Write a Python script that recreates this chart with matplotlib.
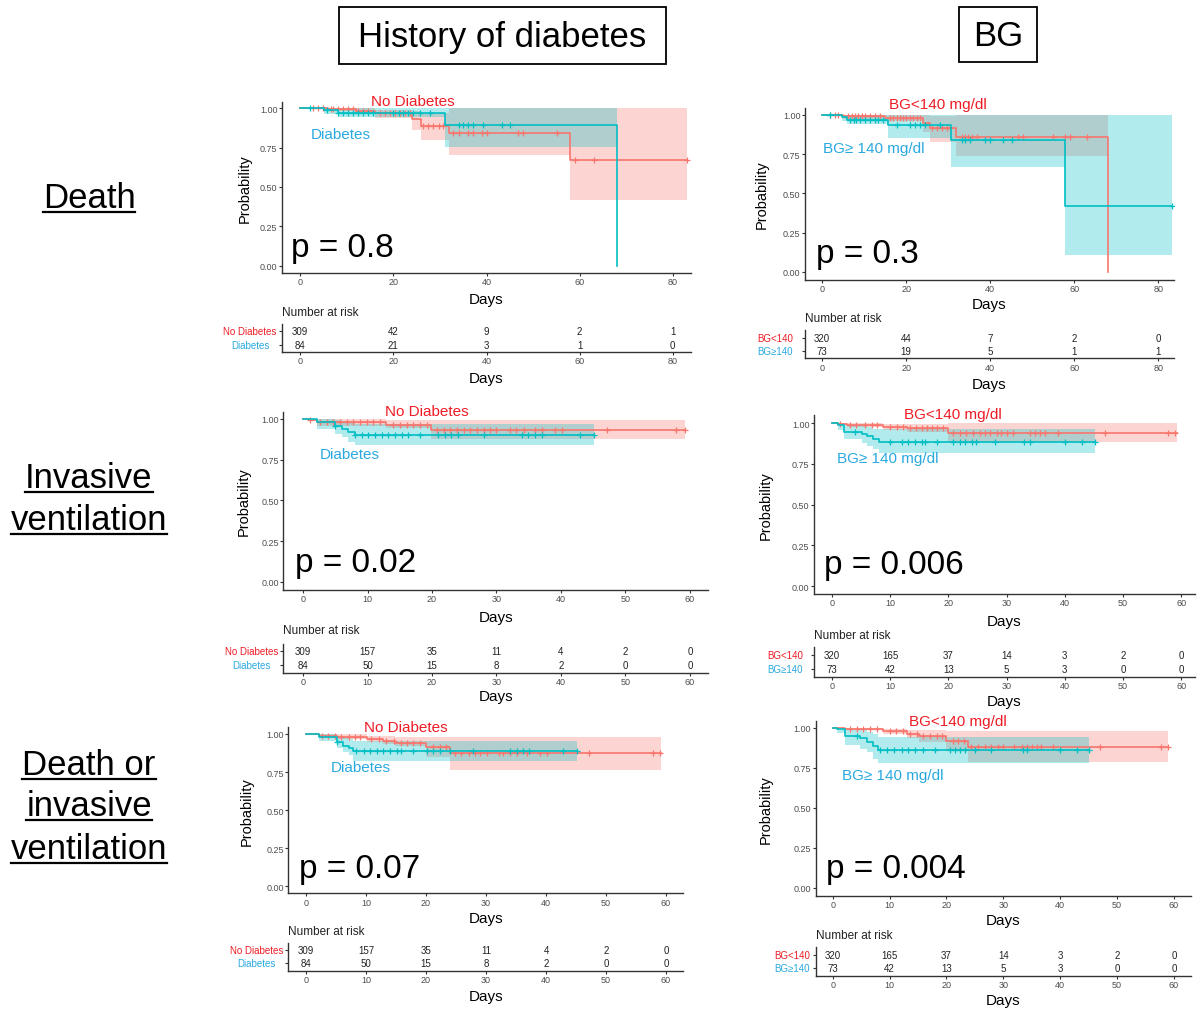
import numpy as np
import matplotlib
matplotlib.use("Agg")
import matplotlib.pyplot as plt
from matplotlib.lines import Line2D
from matplotlib.patches import Rectangle

plt.rcParams['font.family'] = ['Liberation Sans', 'DejaVu Sans']

# ------------------------------------------------------------------ text
col_headers = ["History of diabetes", "BG"]
row_headers = [["Death"], ["Invasive", "ventilation"], ["Death or", "invasive", "ventilation"]]
dm_labels = ["No Diabetes", "Diabetes"]
dm_risk_labels = ["No Diabetes", "Diabetes"]
bg_labels = ["BG<140 mg/dl", "BG\u2265 140 mg/dl"]
bg_risk_labels = ["BG<140", "BG\u2265140"]
p_values = ["0.8", "0.3", "0.02", "0.006", "0.07", "0.004"]

# ------------------------------------------------------------------ risk tables
death_ticks = [0, 20, 40, 60, 80]
iv_ticks = [0, 10, 20, 30, 40, 50, 60]
death_dm_risk_red = [309, 42, 9, 2, 1]
death_dm_risk_teal = [84, 21, 3, 1, 0]
death_bg_risk_red = [320, 44, 7, 2, 0]
death_bg_risk_teal = [73, 19, 5, 1, 1]
iv_dm_risk_red = [309, 157, 35, 11, 4, 2, 0]
iv_dm_risk_teal = [84, 50, 15, 8, 2, 0, 0]
iv_bg_risk_red = [320, 165, 37, 14, 3, 2, 0]
iv_bg_risk_teal = [73, 42, 13, 5, 3, 0, 0]
div_dm_risk_red = [309, 157, 35, 11, 4, 2, 0]
div_dm_risk_teal = [84, 50, 15, 8, 2, 0, 0]
div_bg_risk_red = [320, 165, 37, 14, 3, 2, 0]
div_bg_risk_teal = [73, 42, 13, 5, 3, 0, 0]

# ------------------------------------------------------------------ KM curves
# Death - diabetes history
death_dm_red_t = [0, 6, 12, 16, 24, 26, 32, 58]
death_dm_red_s = [1, 0.995, 0.985, 0.97, 0.93, 0.89, 0.84, 0.67]
death_dm_red_lo = [1, 0.985, 0.97, 0.94, 0.86, 0.80, 0.705, 0.42]
death_dm_red_hi = [1, 1, 1, 0.99, 0.985, 0.97, 1, 1]
death_dm_red_end = 83
death_dm_red_cens = [2.8, 3.9, 4.9, 6.5, 7.1, 8.2, 9.2, 10.3, 11.4, 12.5, 13.5, 14.6, 17.1, 18.2,
                     19.3, 20.3, 21.4, 22.5, 23.6, 26.4, 27.5, 28.6, 29.7, 30.7, 32.9, 34, 36.1,
                     37.2, 39, 40, 46.8, 47.9, 55.1, 59, 63, 83]
death_dm_teal_t = [0, 5, 8, 31, 68]
death_dm_teal_s = [1, 0.988, 0.97, 0.894, 0]
death_dm_teal_lo = [1, 0.965, 0.943, 0.752, 0]
death_dm_teal_hi = [1, 1, 1, 1, 0]
death_dm_teal_end = 68
death_dm_teal_cens = [2.1, 5.7, 8.2, 9.2, 10.3, 11.4, 12.5, 13.5, 14.6, 15.7, 20, 21.1, 22.1, 23.2,
                      24.3, 25.7, 27.9, 34, 35, 36.1, 37.2, 39.3, 43.3, 45.1]

# Death - BG
death_bg_red_t = [0, 5.1, 15, 24.1, 25.7, 31.9, 68]
death_bg_red_s = [1, 0.99, 0.98, 0.947, 0.913, 0.86, 0]
death_bg_red_lo = [1, 0.975, 0.96, 0.89, 0.825, 0.74, 0]
death_bg_red_hi = [1, 1, 1, 1, 0.99, 1, 0]
death_bg_red_end = 68
death_bg_red_cens = [1.9, 3.1, 3.9, 6.3, 7.1, 7.9, 8.6, 9.4, 10.2, 11.4, 12.6, 13.8, 16.2, 17, 17.8,
                     18.6, 19.3, 20.1, 20.9, 21.7, 22.5, 23.3, 26.1, 27.3, 28.5, 29.7, 30.5, 33.2,
                     34, 34.8, 35.6, 36.8, 46.7, 47.9, 55, 57.8, 59, 63]
death_bg_teal_t = [0, 4.7, 6, 15.8, 30.8, 57.9]
death_bg_teal_s = [1, 0.983, 0.966, 0.934, 0.839, 0.42]
death_bg_teal_lo = [1, 0.96, 0.94, 0.85, 0.67, 0.108]
death_bg_teal_hi = [1, 1, 1, 1, 1, 1]
death_bg_teal_end = 83.2
death_bg_teal_cens = [1.9, 6.7, 7.5, 8.2, 9, 10.2, 11.4, 12.6, 13.4, 14.6, 17.8, 20.9, 22.1, 23.3,
                      24.5, 28.1, 33.2, 34, 35.2, 38.8, 40, 43.1, 45.1, 83.2]

# Invasive ventilation - diabetes history
iv_dm_red_t = [0, 1, 2.1, 12.8, 19.9]
iv_dm_red_s = [1, 0.995, 0.984, 0.965, 0.932]
iv_dm_red_lo = [1, 0.985, 0.96, 0.943, 0.877]
iv_dm_red_hi = [1, 1, 0.998, 0.995, 0.996]
iv_dm_red_end = 59.2
iv_dm_red_cens = [1.1, 2.6, 3.7, 4.7, 5.7, 6.8, 7.8, 8.8, 9.9, 10.9, 11.9, 14, 15, 16.1, 17.1, 18.1,
                  19.2, 20.7, 21.8, 22.8, 23.8, 24.9, 25.9, 26.9, 28, 29, 30, 32.1, 33.1, 34.2, 36,
                  37, 39.1, 40.1, 47.1, 57.9, 59.2]
iv_dm_teal_t = [0, 2.1, 5, 6, 7, 8.1]
iv_dm_teal_s = [1, 0.984, 0.96, 0.94, 0.918, 0.90]
iv_dm_teal_lo = [1, 0.94, 0.91, 0.888, 0.86, 0.843]
iv_dm_teal_hi = [1, 1, 0.995, 0.985, 0.975, 0.97]
iv_dm_teal_end = 45.1
iv_dm_teal_cens = [5, 8.1, 9.1, 10.1, 11.2, 12.2, 13.2, 14.3, 15.3, 16.3, 18.1, 21, 22, 23, 24.1, 28,
                   33.9, 34.9, 36, 37, 42.9, 45.1]

# Invasive ventilation - BG
iv_bg_red_t = [0, 1.1, 2.5, 8.8, 12.8, 20]
iv_bg_red_s = [1, 0.995, 0.99, 0.978, 0.967, 0.937]
iv_bg_red_lo = [1, 0.985, 0.975, 0.96, 0.943, 0.886]
iv_bg_red_hi = [1, 1, 1, 0.995, 0.993, 0.998]
iv_bg_red_end = 59.2
iv_bg_red_cens = [1.4, 3.1, 4.2, 5.7, 6.8, 7.7, 10, 11.1, 12.2, 13.4, 14.5, 15.4, 16.3, 17.1, 18,
                  19.1, 20.8, 22, 23.1, 24.3, 25.4, 26.3, 27.1, 28.3, 29.1, 30, 31.1, 34, 34.9,
                  35.7, 36.6, 38.9, 46.9, 57.8, 58.9]
iv_bg_teal_t = [0, 1.1, 2.1, 5.1, 6, 7.1, 8]
iv_bg_teal_s = [1, 0.988, 0.943, 0.933, 0.918, 0.90, 0.886]
iv_bg_teal_lo = [1, 0.96, 0.90, 0.88, 0.86, 0.84, 0.816]
iv_bg_teal_hi = [1, 1, 0.99, 0.985, 0.975, 0.965, 0.963]
iv_bg_teal_end = 45.2
iv_bg_teal_cens = [3.9, 10, 12, 13.1, 14.3, 15.4, 16, 18, 20.8, 22, 22.8, 24, 24.8, 28, 32.9, 34, 40,
                   42.9, 45.2]

# Death or invasive ventilation - diabetes history
div_dm_red_t = [0, 2.1, 5.1, 10.1, 12.9, 14.8, 20, 24]
div_dm_red_s = [1, 0.99, 0.983, 0.967, 0.956, 0.943, 0.912, 0.873]
div_dm_red_lo = [1, 0.975, 0.965, 0.945, 0.935, 0.92, 0.85, 0.766]
div_dm_red_hi = [1, 1, 0.998, 0.99, 0.985, 0.98, 0.978, 0.978]
div_dm_red_end = 59.1
div_dm_red_cens = [2.6, 3.7, 4.8, 5.9, 7.1, 8.2, 9, 10.9, 12.1, 13.4, 14.6, 15.9, 16.8, 17.9, 19,
                   21.2, 22.3, 23.4, 24.8, 25.9, 27.1, 28.2, 29, 30.1, 32.1, 32.9, 34, 35.1, 36.8,
                   39, 40.1, 47.1, 57.9, 59]
div_dm_teal_t = [0, 2.1, 5.1, 6.2, 7.1, 7.9]
div_dm_teal_s = [1, 0.983, 0.945, 0.923, 0.906, 0.888]
div_dm_teal_lo = [1, 0.955, 0.905, 0.885, 0.865, 0.825]
div_dm_teal_hi = [1, 1, 0.99, 0.98, 0.97, 0.956]
div_dm_teal_end = 45.1
div_dm_teal_cens = [5.1, 8.4, 9.6, 10.7, 11.8, 12.9, 14, 15.1, 15.9, 17.9, 20.1, 21.2, 22.3, 24,
                    27.9, 34, 35.1, 36.2, 37.1, 42.9, 45.1]

# Death or invasive ventilation - BG
div_bg_red_t = [0, 2.2, 8.9, 13, 15.1, 20, 23.8]
div_bg_red_s = [1, 0.994, 0.983, 0.962, 0.948, 0.92, 0.883]
div_bg_red_lo = [1, 0.985, 0.965, 0.935, 0.915, 0.858, 0.79]
div_bg_red_hi = [1, 1, 0.995, 0.99, 0.985, 0.983, 0.983]
div_bg_red_end = 59
div_bg_red_cens = [3, 4.2, 5.4, 6.6, 7.7, 10.1, 11.2, 12.4, 13.6, 14.8, 15.9, 17.1, 18.3, 19.2, 21.2,
                   22.1, 23, 24.4, 25.6, 26.8, 27.9, 29.1, 30, 31.8, 33.2, 34.1, 35, 35.9, 36.7,
                   38.8, 47, 57.8, 59]
div_bg_teal_t = [0, 0.8, 2.1, 4.8, 6, 7, 8]
div_bg_teal_s = [1, 0.994, 0.948, 0.935, 0.91, 0.89, 0.862]
div_bg_teal_lo = [1, 0.97, 0.896, 0.868, 0.848, 0.806, 0.78]
div_bg_teal_hi = [1, 1, 0.99, 0.985, 0.975, 0.96, 0.942]
div_bg_teal_end = 45.1
div_bg_teal_cens = [4.2, 8.3, 9.5, 10.7, 12.1, 13.3, 14.5, 15.9, 18, 20.6, 21.5, 22.4, 23.3, 25,
                    27.9, 33.5, 34.1, 40, 42.9, 45.1]

# ------------------------------------------------------------------ styles
RED_LINE = '#F8766D'
TEAL_LINE = '#00BFC4'
RED_TXT = '#EE1C25'
BLUE_TXT = '#29A9E0'
AX_COL = '#333333'
TICK_COL = '#4D4D4D'

W, H = 1197, 1012
fig = plt.figure(figsize=(W / 100, H / 100), dpi=100)
fig.patch.set_facecolor('white')


def fx(px):
    return px / W


def fy(py):
    return 1 - py / H


def add_axes_px(L, R, T, B):
    return fig.add_axes([L / W, 1 - B / H, (R - L) / W, (B - T) / H])


# layout (pixel positions) per panel
LAYOUT = [
    dict(main=(282, 691, 103, 274), xcal=(300.3, 672.7), ycal=(109.3, 266.7), risk=(325, 353),
         rows=(332.3, 346), nar_y=313, days_y=300, rdays_y=379, ylab_x=245,
         lab1=(413, 102), lab2=(341, 135), p=(291, 257), rlab_x=250),
    dict(main=(805, 1174, 109, 280.7), xcal=(822, 1158.3), ycal=(115.7, 273), risk=(330.7, 359.3),
         rows=(338.7, 352), nar_y=319.3, days_y=305, rdays_y=385, ylab_x=762,
         lab1=(938.3, 105), lab2=(873.3, 149), p=(815.7, 263.3), rlab_x=775),
    dict(main=(283.3, 708.3, 412.7, 591), xcal=(303, 690), ycal=(420, 583), risk=(645, 674),
         rows=(651.7, 665.7), nar_y=631.3, days_y=618.3, rdays_y=696.7, ylab_x=243.3,
         lab1=(426.7, 411.7), lab2=(349.5, 455), p=(295, 572.3), rlab_x=251.7),
    dict(main=(814, 1195, 416, 595), xcal=(832, 1181.3), ycal=(424, 587.3), risk=(648.3, 677.7),
         rows=(655.7, 670), nar_y=635.7, days_y=621.7, rdays_y=701.7, ylab_x=766,
         lab1=(952.7, 415), lab2=(887.7, 459.3), p=(824, 574), rlab_x=785),
    dict(main=(288.3, 683.3, 728.3, 894.3), xcal=(306, 666), ycal=(735, 887.3), risk=(944, 971.7),
         rows=(950.7, 964.3), nar_y=932, days_y=919, rdays_y=996.7, ylab_x=246.7,
         lab1=(405.8, 728.3), lab2=(360.3, 768.3), p=(299, 877.7), rlab_x=256.7),
    dict(main=(815.7, 1190.7, 721.7, 896.7), xcal=(832.7, 1174), ycal=(729, 888.7), risk=(947.7, 976.7),
         rows=(955.7, 969.3), nar_y=935.7, days_y=921, rdays_y=1001, ylab_x=766,
         lab1=(958, 722.3), lab2=(893, 775.7), p=(825.7, 878.3), rlab_x=791.7),
]

PANELS = [
    dict(ticks=death_ticks, labels=dm_labels, rlabels=dm_risk_labels,
         red=(death_dm_red_t, death_dm_red_s, death_dm_red_lo, death_dm_red_hi, death_dm_red_end, death_dm_red_cens),
         teal=(death_dm_teal_t, death_dm_teal_s, death_dm_teal_lo, death_dm_teal_hi, death_dm_teal_end, death_dm_teal_cens),
         risk=(death_dm_risk_red, death_dm_risk_teal)),
    dict(ticks=death_ticks, labels=bg_labels, rlabels=bg_risk_labels,
         red=(death_bg_red_t, death_bg_red_s, death_bg_red_lo, death_bg_red_hi, death_bg_red_end, death_bg_red_cens),
         teal=(death_bg_teal_t, death_bg_teal_s, death_bg_teal_lo, death_bg_teal_hi, death_bg_teal_end, death_bg_teal_cens),
         risk=(death_bg_risk_red, death_bg_risk_teal)),
    dict(ticks=iv_ticks, labels=dm_labels, rlabels=dm_risk_labels,
         red=(iv_dm_red_t, iv_dm_red_s, iv_dm_red_lo, iv_dm_red_hi, iv_dm_red_end, iv_dm_red_cens),
         teal=(iv_dm_teal_t, iv_dm_teal_s, iv_dm_teal_lo, iv_dm_teal_hi, iv_dm_teal_end, iv_dm_teal_cens),
         risk=(iv_dm_risk_red, iv_dm_risk_teal)),
    dict(ticks=iv_ticks, labels=bg_labels, rlabels=bg_risk_labels,
         red=(iv_bg_red_t, iv_bg_red_s, iv_bg_red_lo, iv_bg_red_hi, iv_bg_red_end, iv_bg_red_cens),
         teal=(iv_bg_teal_t, iv_bg_teal_s, iv_bg_teal_lo, iv_bg_teal_hi, iv_bg_teal_end, iv_bg_teal_cens),
         risk=(iv_bg_risk_red, iv_bg_risk_teal)),
    dict(ticks=iv_ticks, labels=dm_labels, rlabels=dm_risk_labels,
         red=(div_dm_red_t, div_dm_red_s, div_dm_red_lo, div_dm_red_hi, div_dm_red_end, div_dm_red_cens),
         teal=(div_dm_teal_t, div_dm_teal_s, div_dm_teal_lo, div_dm_teal_hi, div_dm_teal_end, div_dm_teal_cens),
         risk=(div_dm_risk_red, div_dm_risk_teal)),
    dict(ticks=iv_ticks, labels=bg_labels, rlabels=bg_risk_labels,
         red=(div_bg_red_t, div_bg_red_s, div_bg_red_lo, div_bg_red_hi, div_bg_red_end, div_bg_red_cens),
         teal=(div_bg_teal_t, div_bg_teal_s, div_bg_teal_lo, div_bg_teal_hi, div_bg_teal_end, div_bg_teal_cens),
         risk=(div_bg_risk_red, div_bg_risk_teal)),
]


def style_axes(ax):
    for sp in ('top', 'right'):
        ax.spines[sp].set_visible(False)
    for sp in ('left', 'bottom'):
        ax.spines[sp].set_color(AX_COL)
        ax.spines[sp].set_linewidth(1.0)
    ax.tick_params(axis='both', colors=AX_COL, labelcolor=TICK_COL, labelsize=6.5,
                   length=2, width=0.8, pad=1.2)
    ax.set_facecolor('none')


def draw_km(ax, t, s, lo, hi, end, cens, color):
    x = list(t) + [end]
    ax.fill_between(x, list(lo) + [lo[-1]], list(hi) + [hi[-1]], step='post',
                    color=color, alpha=0.3, lw=0)
    ax.step(x, list(s) + [s[-1]], where='post', color=color, lw=1.2)
    idx = np.searchsorted(np.array(t), np.array(cens), side='right') - 1
    ax.plot(cens, np.array(s)[idx], ls='none', marker='+', color=color, ms=4.5, mew=0.9)


for lay, pan, pv in zip(LAYOUT, PANELS, p_values):
    L, R, T, B = lay['main']
    x0px, xmpx = lay['xcal']
    xmax = pan['ticks'][-1]
    xs = (xmpx - x0px) / xmax
    xlim = ((L - x0px) / xs, (R - x0px) / xs)
    y1px, y0px = lay['ycal']
    ys = y0px - y1px

    ax = add_axes_px(L, R, T, B)
    style_axes(ax)
    ax.set_xlim(*xlim)
    ax.set_ylim((y0px - B) / ys, (y0px - T) / ys)
    ax.set_xticks(pan['ticks'])
    ax.set_yticks([0, 0.25, 0.5, 0.75, 1.0])
    ax.set_yticklabels(['0.00', '0.25', '0.50', '0.75', '1.00'])
    draw_km(ax, *pan['red'], RED_LINE)
    draw_km(ax, *pan['teal'], TEAL_LINE)

    cx = (L + R) / 2
    fig.text(fx(cx), fy(lay['days_y']), 'Days', ha='center', va='center', fontsize=11)
    fig.text(fx(lay['ylab_x']), fy((T + B) / 2), 'Probability', ha='center', va='center',
             rotation=90, fontsize=10.5)
    fig.text(fx(lay['p'][0]), fy(lay['p'][1]), 'p = ' + pv, ha='left', va='baseline', fontsize=24)
    fig.text(fx(lay['lab1'][0]), fy(lay['lab1'][1]), pan['labels'][0], ha='center', va='center',
             fontsize=11, color=RED_TXT)
    fig.text(fx(lay['lab2'][0]), fy(lay['lab2'][1]), pan['labels'][1], ha='center', va='center',
             fontsize=11, color=BLUE_TXT)

    # risk table
    rT, rB = lay['risk']
    r1, r2 = lay['rows']
    rs = r2 - r1
    rax = add_axes_px(L, R, rT, rB)
    style_axes(rax)
    rax.set_xlim(*xlim)
    rax.set_ylim((r2 - rB) / rs, (r2 - rT) / rs)
    rax.set_xticks(pan['ticks'])
    rax.set_yticks([0, 1])
    rax.set_yticklabels([])
    for tk, n1, n2 in zip(pan['ticks'], pan['risk'][0], pan['risk'][1]):
        rax.text(tk, 1, str(n1), ha='center', va='center', fontsize=7, color='#222222')
        rax.text(tk, 0, str(n2), ha='center', va='center', fontsize=7, color='#222222')
    xf = (lay['rlab_x'] - L) / (R - L)
    rax.text(xf, 1, pan['rlabels'][0], transform=rax.get_yaxis_transform(), ha='center',
             va='center', fontsize=7, color=RED_TXT)
    rax.text(xf, 0, pan['rlabels'][1], transform=rax.get_yaxis_transform(), ha='center',
             va='center', fontsize=7, color=BLUE_TXT)
    fig.text(fx(L), fy(lay['nar_y']), 'Number at risk', ha='left', va='center', fontsize=8.5,
             color='#222222')
    fig.text(fx(cx), fy(lay['rdays_y']), 'Days', ha='center', va='center', fontsize=11)

# ------------------------------------------------------------------ column headers
for (bx0, bx1, by0, by1), txt in zip([(339, 666, 8, 65), (959, 1037, 8, 63)], col_headers):
    fig.add_artist(Rectangle((fx(bx0), fy(by1)), (bx1 - bx0) / W, (by1 - by0) / H,
                             transform=fig.transFigure, fill=False, ec='black', lw=1.3))
    fig.text(fx((bx0 + bx1) / 2), fy((by0 + by1) / 2 + 1), txt, ha='center', va='center',
             fontsize=25)

# ------------------------------------------------------------------ row headers (underlined)
row_baselines = [[208.3], [488.3, 530], [775, 816, 859.3]]
row_texts = []
for lines, bases in zip(row_headers, row_baselines):
    for line, base in zip(lines, bases):
        row_texts.append((fig.text(fx(89), fy(base), line, ha='center', va='baseline',
                                   fontsize=25), base))
fig.canvas.draw()
for t, base in row_texts:
    bb = t.get_window_extent()
    fig.add_artist(Line2D([bb.x0 / W, bb.x1 / W], [fy(base + 4.5)] * 2,
                          transform=fig.transFigure, color='black', lw=1.6))

fig.savefig('out.png', dpi=100, facecolor='white')
